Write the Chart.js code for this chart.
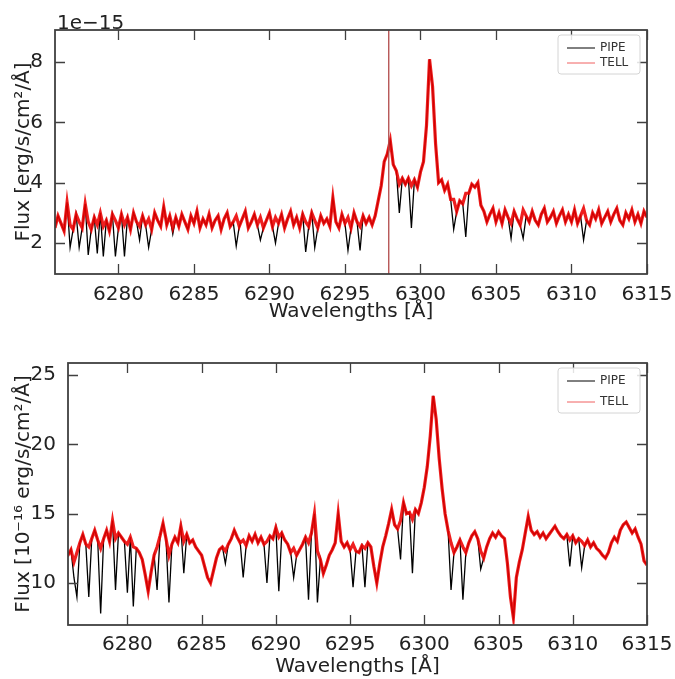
<!DOCTYPE html>
<html>
<head>
<meta charset="utf-8">
<script src="https://cdn.jsdelivr.net/npm/chart.js@4"></script>
<style>
  body { margin: 0; background: #fff; }
  #wrap { position: relative; width: 675px; height: 679px; }
  canvas { position: absolute; left: 0; }
</style>
</head>
<body>
<div id="wrap">
  <canvas id="chartTop" width="675" height="335" style="top:0"></canvas>
  <canvas id="chartBottom" width="675" height="344" style="top:335px"></canvas>
</div>
<script>
// wavelength grid (Angstrom), one sample every 0.2 A
const waveStart = 6275.8;
const waveStep = 0.2;

// top panel, flux in 1e-15 erg/s/cm2/A
const topTell = [
  2.5, 2.9, 2.65, 2.4, 3.35, 2.6, 2.45, 2.95, 2.7, 2.5,
  3.3, 2.7, 2.45, 2.85, 2.6, 3.0, 2.55, 2.75, 2.4, 2.95,
  2.75, 2.5, 2.95, 2.6, 2.85, 2.45, 3.0, 2.7, 2.55, 2.9,
  2.6, 2.8, 2.45, 3.0, 2.75, 2.55, 3.2, 2.6, 2.9, 2.5,
  2.85, 2.55, 2.95, 2.7, 2.45, 2.9, 2.65, 3.05, 2.5, 2.8,
  2.6, 2.95, 2.5, 2.75, 2.9, 2.45, 2.8, 3.0, 2.55, 2.7,
  2.9, 2.55, 2.8, 3.05, 2.5, 2.7, 2.95, 2.6, 2.85, 2.5,
  2.75, 3.0, 2.55, 2.85, 2.65, 2.95, 2.5, 2.8, 3.05, 2.6,
  2.85, 2.5, 2.95, 2.7, 2.55, 3.0, 2.75, 2.5, 2.9, 2.65,
  2.8, 2.55, 3.5, 2.7, 2.5, 2.95, 2.65, 2.85, 2.5, 3.0,
  2.7, 2.55, 2.9, 2.65, 2.85, 2.6, 2.9, 3.4, 3.9, 4.7,
  4.95, 5.4, 4.6, 4.4, 3.95, 4.15, 3.95, 4.15, 3.9, 4.1,
  3.85, 4.35, 4.7, 5.9, 8.1, 7.2, 5.3, 4.0, 4.1, 3.75,
  3.95, 3.45, 3.45, 3.05, 3.4, 3.3, 3.65, 3.65, 3.95, 3.85,
  4.0, 3.25, 3.05, 2.7, 2.95, 3.15, 2.7, 3.0, 2.65, 3.1,
  2.85, 2.65, 3.05, 2.8, 2.6, 3.1, 2.9, 2.7, 3.05, 2.75,
  2.6, 2.95, 3.15, 2.7, 2.85, 3.05, 2.65, 2.9, 3.1, 2.7,
  2.95, 2.7, 3.1, 2.65, 2.9, 3.15, 2.75, 2.6, 3.0, 2.8,
  3.1, 2.65, 2.85, 3.05, 2.7, 2.95, 3.15, 2.75, 2.6, 3.0,
  2.8, 3.1, 2.7, 2.95, 2.65, 3.05, 2.85
];
const topPipe = [
  2.5, 2.9, 2.65, 2.4, 3.35, 1.85, 2.45, 2.95, 1.85, 2.5,
  3.3, 1.6, 2.45, 2.85, 1.65, 3.0, 1.55, 2.75, 2.4, 2.95,
  1.55, 2.5, 2.95, 1.55, 2.85, 2.45, 3.0, 2.7, 2.1, 2.9,
  2.6, 1.85, 2.45, 3.0, 2.75, 2.55, 3.2, 2.6, 2.9, 2.3,
  2.85, 2.55, 2.95, 2.7, 2.45, 2.9, 2.65, 3.05, 2.5, 2.8,
  2.6, 2.95, 2.5, 2.75, 2.9, 2.45, 2.8, 3.0, 2.55, 2.7,
  1.9, 2.55, 2.8, 3.05, 2.5, 2.7, 2.95, 2.6, 2.1, 2.5,
  2.75, 3.0, 2.55, 2.0, 2.65, 2.95, 2.5, 2.8, 3.05, 2.6,
  2.85, 2.5, 2.95, 1.7, 2.55, 3.0, 1.85, 2.5, 2.9, 2.65,
  2.8, 2.55, 3.5, 2.7, 2.5, 2.95, 2.65, 1.75, 2.5, 3.0,
  2.7, 1.75, 2.9, 2.65, 2.85, 2.6, 2.9, 3.4, 3.9, 4.7,
  4.95, 5.4, 4.6, 4.4, 3.0, 4.15, 3.95, 4.15, 2.5, 4.1,
  3.85, 4.35, 4.7, 5.9, 8.1, 7.2, 5.3, 4.0, 4.1, 3.75,
  3.95, 3.45, 2.45, 3.05, 3.4, 3.3, 2.2, 3.65, 3.95, 3.85,
  4.0, 3.25, 3.05, 2.7, 2.95, 3.15, 2.7, 3.0, 2.65, 3.1,
  2.85, 2.15, 3.05, 2.8, 2.6, 2.15, 2.9, 2.7, 3.05, 2.75,
  2.6, 2.95, 3.15, 2.7, 2.85, 3.05, 2.65, 2.9, 3.1, 2.7,
  2.95, 2.7, 3.1, 2.65, 2.9, 2.1, 2.75, 2.6, 3.0, 2.8,
  3.1, 2.65, 2.85, 3.05, 2.7, 2.95, 3.15, 2.75, 2.6, 3.0,
  2.8, 3.1, 2.7, 2.95, 2.65, 3.05, 2.85
];
// single bad pixel in the top spectrum (runs off both ends of the axis)
const spikeWave = [6297.9, 6297.9];
const spikeFlux = [-20, 40];

// bottom panel, flux in 1e-16 erg/s/cm2/A
const botTell = [
  11.8, 12.0, 12.4, 11.5, 12.2, 12.9, 13.5, 12.8, 12.6, 13.2,
  13.8, 13.1, 12.5, 13.2, 13.8, 13.0, 14.5, 13.2, 13.6, 13.3,
  13.0, 12.8, 13.3, 12.6, 12.5, 12.2, 11.7, 10.6, 9.4, 10.8,
  12.0, 12.6, 13.4, 14.3, 13.2, 12.0, 12.8, 13.3, 12.9, 14.1,
  13.0, 13.5, 12.9, 13.1, 12.6, 12.3, 12.0, 11.2, 10.4, 10.0,
  10.9, 11.8, 12.4, 12.6, 12.3, 12.8, 13.2, 13.8, 13.3, 12.9,
  13.1, 12.7, 13.4, 13.0, 13.5, 12.9, 13.3, 12.8, 13.0, 13.4,
  13.2, 14.0, 13.3, 13.6, 13.1, 12.8, 12.2, 12.5, 12.0, 12.4,
  12.8, 13.3, 12.9, 13.6, 15.0, 12.3, 11.7, 10.7, 11.3, 12.0,
  12.4, 12.9, 15.0, 13.0, 12.6, 12.9, 12.4, 12.8, 12.3, 12.2,
  12.7, 12.5, 12.9, 12.6, 11.2, 10.0, 11.4, 12.6, 13.4, 14.3,
  15.3, 14.2, 13.9, 14.5, 15.8, 15.0, 15.1, 14.6, 15.3, 15.0,
  15.8, 16.9, 18.4, 20.6, 23.5, 21.8, 19.0, 16.8, 15.0, 13.8,
  12.9, 12.2, 12.6, 13.1, 12.6, 12.2, 12.9, 13.4, 13.7, 13.2,
  12.3, 11.8, 12.6, 13.2, 13.6, 13.3, 13.7, 13.4, 13.2, 11.4,
  9.0, 7.5, 10.4, 11.5, 12.4, 13.6, 14.8, 13.8, 13.5, 13.7,
  13.3, 13.6, 13.2, 13.5, 13.8, 14.1, 13.7, 13.4, 13.2, 13.5,
  13.1, 13.4, 12.9, 13.2, 13.0, 12.7, 13.1, 12.6, 12.9, 12.5,
  12.3, 12.0, 11.8, 12.2, 12.9, 13.3, 13.0, 13.8, 14.2, 14.4,
  14.0, 13.6, 13.9, 13.3, 12.8, 11.6, 11.3
];
const botPipe = [
  11.8, 12.0, 12.4, 10.4, 9.0, 12.9, 13.5, 12.8, 9.0, 13.2,
  13.8, 13.1, 7.8, 13.2, 13.8, 13.0, 14.5, 9.5, 13.6, 13.3,
  13.0, 9.3, 13.3, 8.3, 12.5, 12.2, 11.7, 10.6, 9.4, 10.8,
  12.0, 9.5, 13.4, 14.3, 13.2, 8.6, 12.8, 13.3, 12.9, 14.1,
  10.7, 13.5, 12.9, 13.1, 12.6, 12.3, 12.0, 11.2, 10.4, 10.0,
  10.9, 11.8, 12.4, 12.6, 11.4, 12.8, 13.2, 13.8, 13.3, 12.9,
  10.4, 12.7, 13.4, 13.0, 13.5, 12.9, 13.3, 12.8, 10.0, 13.4,
  13.2, 14.0, 9.4, 13.6, 13.1, 12.8, 12.2, 10.4, 12.0, 12.4,
  12.8, 13.3, 8.8, 13.6, 15.0, 8.6, 11.7, 10.7, 11.3, 12.0,
  12.4, 12.9, 15.0, 13.0, 12.6, 12.9, 12.4, 9.7, 12.3, 12.2,
  12.7, 9.7, 12.9, 12.6, 11.2, 10.0, 11.4, 12.6, 13.4, 14.3,
  15.3, 14.2, 13.9, 11.7, 15.8, 15.0, 15.1, 10.7, 15.3, 15.0,
  15.8, 16.9, 18.4, 20.6, 23.5, 21.8, 19.0, 16.8, 15.0, 13.8,
  9.5, 12.2, 12.6, 13.1, 8.8, 12.2, 12.9, 13.4, 13.7, 13.2,
  11.0, 11.8, 12.6, 13.2, 13.6, 13.3, 13.7, 13.4, 13.2, 11.4,
  9.0, 7.5, 10.4, 11.5, 12.4, 13.6, 14.8, 13.8, 13.5, 13.7,
  13.3, 13.6, 13.2, 13.5, 13.8, 14.1, 13.7, 13.4, 13.2, 13.5,
  11.2, 13.4, 12.9, 13.2, 11.1, 12.7, 13.1, 12.6, 12.9, 12.5,
  12.3, 12.0, 11.8, 12.2, 12.9, 13.3, 13.0, 13.8, 14.2, 14.4,
  14.0, 13.6, 13.9, 13.3, 12.8, 11.6, 11.3
];

// tick positions
const waveTicks = [6280, 6285, 6290, 6295, 6300, 6305, 6310, 6315];
const topFluxTicks = [2, 4, 6, 8];
const botFluxTicks = [10, 15, 20, 25];

Chart.defaults.font.family = "'DejaVu Sans', sans-serif";
Chart.defaults.font.size = 20;
Chart.defaults.color = "#222";

function toPoints(xs, ys) {
	return ys.map((y, i) => ({ x: xs[i], y: y }));
}
const wave = topTell.map((_, i) => +(waveStart + i * waveStep).toFixed(2));

// frame, inward ticks on all four sides, legend box and offset text (matplotlib look)
const axesPlugin = {
	id: "mplAxes",
	afterDraw(chart, args, opts) {
		const { ctx, chartArea: a, scales } = chart;
		const tl = 10;
		ctx.save();
		ctx.strokeStyle = "#404040";
		ctx.lineWidth = 1.3;
		ctx.beginPath();
		scales.x.ticks.forEach((t) => {
			const px = Math.round(scales.x.getPixelForValue(t.value)) + 0.5;
			ctx.moveTo(px, a.bottom); ctx.lineTo(px, a.bottom - tl);
			ctx.moveTo(px, a.top); ctx.lineTo(px, a.top + tl);
		});
		scales.y.ticks.forEach((t) => {
			const py = Math.round(scales.y.getPixelForValue(t.value)) + 0.5;
			ctx.moveTo(a.left, py); ctx.lineTo(a.left + tl, py);
			ctx.moveTo(a.right, py); ctx.lineTo(a.right - tl, py);
		});
		ctx.stroke();
		ctx.lineWidth = 1.8;
		ctx.strokeRect(a.left, a.top, a.right - a.left, a.bottom - a.top);

		// legend
		const items = chart.data.datasets.filter((d) => d.label);
		const bw = 82, bh = 20 + opts.rowGap * (items.length - 1) + 4;
		const bx = a.right - 7 - bw, by = a.top + 5;
		ctx.fillStyle = "rgba(255,255,255,0.85)";
		ctx.strokeStyle = "#d4d4d4";
		ctx.lineWidth = 1;
		ctx.beginPath();
		ctx.roundRect(bx, by, bw, bh, 3);
		ctx.fill();
		ctx.stroke();
		ctx.font = "12px 'DejaVu Sans', sans-serif";
		ctx.textBaseline = "middle";
		items.forEach((d, i) => {
			const y = by + 13 + i * opts.rowGap;
			ctx.strokeStyle = d.legendColor;
			ctx.lineWidth = 1;
			ctx.beginPath();
			ctx.moveTo(bx + 9, y); ctx.lineTo(bx + 37, y);
			ctx.stroke();
			ctx.fillStyle = "#333";
			ctx.fillText(d.label, bx + 42, y);
		});

		if (opts.offsetText) {
			ctx.font = "20px 'DejaVu Sans', sans-serif";
			ctx.textBaseline = "alphabetic";
			ctx.fillStyle = "#222";
			ctx.fillText(opts.offsetText, a.left + 2, a.top - 1);
		}
		ctx.restore();
	},
};

function buatPanel(canvasId, cfg) {
	const datasets = [
		{
			label: "PIPE",
			data: toPoints(wave, cfg.pipe),
			borderColor: "#000000",
			legendColor: "#000000",
			borderWidth: 1.3,
			order: 2,
		},
		{
			label: "TELL",
			data: toPoints(wave, cfg.tell),
			borderColor: "rgba(236,0,0,0.88)",
			legendColor: "#f06060",
			borderWidth: cfg.tellWidth,
			order: 1,
		},
	];
	if (cfg.spike) {
		datasets.push({
			data: toPoints(spikeWave, spikeFlux),
			borderColor: "#b04848",
			borderWidth: 1.3,
			order: 0,
		});
	}
	datasets.forEach((d) => {
		d.showLine = true;
		d.pointRadius = 0;
		d.tension = 0;
	});

	new Chart(document.getElementById(canvasId), {
		type: "scatter",
		data: { datasets: datasets },
		options: {
			responsive: false,
			animation: false,
			events: [],
			layout: { padding: { top: cfg.padTop, right: 28, left: 0, bottom: 0 } },
			plugins: {
				legend: { display: false },
				tooltip: { enabled: false },
				mplAxes: { rowGap: cfg.rowGap, offsetText: cfg.offsetText },
			},
			scales: {
				x: {
					type: "linear",
					min: cfg.xMin,
					max: 6315,
					grid: { display: false },
					border: { display: false },
					ticks: {
						padding: cfg.xTickPad,
						autoSkip: false,
						maxRotation: 0,
						callback: (v) => String(v),
					},
					title: {
						display: true,
						text: "Wavelengths [Å]",
						padding: { top: 0, bottom: cfg.xTitlePad },
					},
					afterBuildTicks: (s) => {
						s.ticks = waveTicks.map((v) => ({ value: v }));
					},
					afterFit: (s) => {
						s.height = cfg.xHeight;
					},
				},
				y: {
					min: cfg.yMin,
					max: cfg.yMax,
					grid: { display: false },
					border: { display: false },
					ticks: { padding: 4, callback: (v) => String(v) },
					title: {
						display: true,
						text: cfg.yTitle,
						padding: { top: 12, bottom: 0 },
					},
					afterBuildTicks: (s) => {
						s.ticks = cfg.yTicks.map((v) => ({ value: v }));
					},
					afterFit: (s) => {
						s.width = cfg.yWidth;
					},
				},
			},
		},
		plugins: [axesPlugin],
	});
}

buatPanel("chartTop", {
	tell: topTell,
	pipe: topPipe,
	spike: true,
	tellWidth: 3.2,
	xMin: 6275.8,
	yMin: 0.97,
	yMax: 9.07,
	yTicks: topFluxTicks,
	yTitle: "Flux [erg/s/cm²/Å]",
	offsetText: "1e\u221215",
	padTop: 30,
	yWidth: 55,
	xHeight: 61,
	xTickPad: 1,
	xTitlePad: 11,
	rowGap: 15,
});

buatPanel("chartBottom", {
	tell: botTell,
	pipe: botPipe,
	spike: false,
	tellWidth: 3.2,
	xMin: 6276.0,
	yMin: 6.97,
	yMax: 25.87,
	yTicks: botFluxTicks,
	yTitle: "Flux [10\u207B\u00B9\u2076 erg/s/cm\u00B2/Å]",
	offsetText: "",
	padTop: 28,
	yWidth: 68,
	xHeight: 54,
	xTickPad: 0,
	xTitlePad: 0,
	rowGap: 21,
});
</script>
</body>
</html>
